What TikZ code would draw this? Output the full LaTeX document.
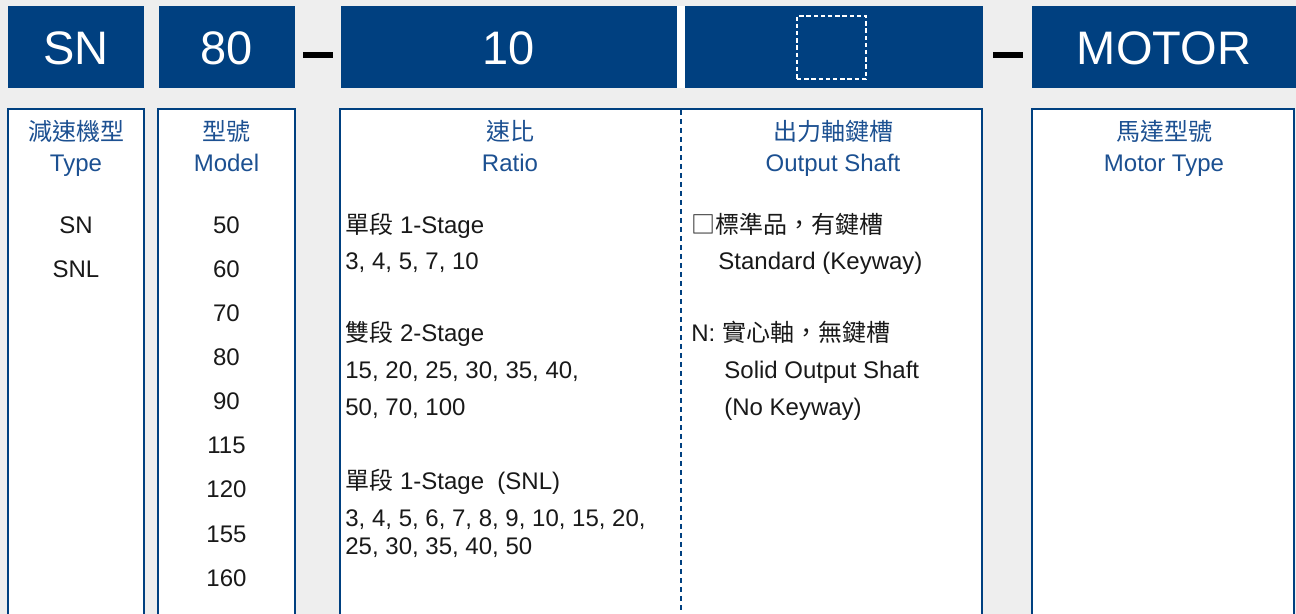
\documentclass[tikz,border=0pt]{standalone}
\usepackage{fontspec}
\setmainfont{Liberation Sans}
\newfontfamily\cjk{Noto Sans CJK TC}
\usepackage{tikz}

\definecolor{hblue}{RGB}{0,64,128}
\definecolor{tblue}{RGB}{28,80,145}
\definecolor{bggray}{RGB}{238,238,238}

\begin{document}
\begin{tikzpicture}[x=0.5pt, y=-0.5pt,
    hdr/.style={fill=hblue, text=white, inner sep=0pt, minimum height=41pt,
        text height=16.8pt, text depth=0pt, font=\fontsize{23.5}{28}\selectfont},
    ttl/.style={anchor=base, inner sep=0pt, text=tblue, font=\fontsize{12}{14}\selectfont},
    itm/.style={anchor=base, inner sep=0pt, text=black!90, font=\fontsize{12}{14}\selectfont},
    lst/.style={itm, anchor=base west},
    panel/.style={draw=hblue, line width=1pt, fill=white},
    bar/.style={line width=3pt, black}]

    \fill[bggray] (0,0) rectangle (1296,614);
    \clip (0,0) rectangle (1296,614);

    \node[hdr, minimum width=68pt] (SN) at (76,47.5) {SN};
    \node[hdr, minimum width=68pt] (SZ) at (227,47.5) {80};
    \draw[bar] (303,55.5) -- (333,55.5);
    \node[hdr, minimum width=168pt] (RT) at (509,47.5) {10};
    \fill[white] (677,6.5) rectangle (685,88.5);
    \node[hdr, minimum width=149pt] (OS) at (834,47.5) {};
    \node[draw=white, line width=1pt, dash pattern=on 2.2pt off 1.4pt,
        inner sep=0pt, minimum width=34.5pt, minimum height=31.5pt] (OSkey) at (831.5,47.5) {};
    \draw[bar] (993,55.5) -- (1023,55.5);
    \node[hdr, minimum width=132pt] (MT) at (1164,47.5) {MOTOR};

        \draw[panel] (8,109) rectangle (144,640);
        \draw[panel] (158,109) rectangle (295,640);
        \draw[panel] (340,109) rectangle (982,640);
        \draw[panel] (1032,109) rectangle (1294,640);
        \draw[hblue, line width=1pt, dash pattern=on 2.5pt off 2pt] (681,110) -- (681,640);

        \node[ttl] (defTY) at (76,141) {\cjk 減速機型};
        \node[ttl] (TY) at (76,172) {Type};
        \node[ttl] (defMD) at (226.5,141) {\cjk 型號};
        \node[ttl] (MD) at (226.5,172) {Model};
        \node[ttl] (defRA) at (510,141) {\cjk 速比};
        \node[ttl] (RA) at (510,172) {Ratio};
        \node[ttl] (defSH) at (833,141) {\cjk 出力軸鍵槽};
        \node[ttl] (SH) at (833,172) {Output Shaft};
        \node[ttl] (defMO) at (1164,141) {\cjk 馬達型號};
        \node[ttl] (MO) at (1164,172) {Motor Type};

        \node[itm] (tySN) at (76,234) {SN};
        \node[itm] (tySNL) at (76,278) {SNL};

        \foreach \m [count=\i from 0] in {50,60,70,80,90,115,120,155,160}
            \node[itm] (md\m) at (226.5,234+44*\i) {\m};

        \node[lst] (oneST) at (345,234) {{\cjk 單段} 1-Stage};
        \node[lst] (oneRA) at (345,270) {3, 4, 5, 7, 10};
        \node[lst] (twoST) at (345,342) {{\cjk 雙段} 2-Stage};
        \node[lst] (twoRA) at (345,379) {15, 20, 25, 30, 35, 40,};
        \node[lst] (twoRB) at (345,416) {50, 70, 100};
        \node[lst] (snlST) at (345,489) {{\cjk 單段} 1-Stage\ \ (SNL)};
        \node[lst] (snlRA) at (345,526) {3, 4, 5, 6, 7, 8, 9, 10, 15, 20,};
        \node[lst] (snlRB) at (345,554) {25, 30, 35, 40, 50};

        \node[lst] (defSTD) at (691,234) {\cjk □標準品，有鍵槽};
        \node[lst] (STD) at (718,270) {Standard (Keyway)};
        \node[lst] (defSOL) at (691,342) {N: {\cjk 實心軸，無鍵槽}};
        \node[lst] (SOL) at (724,379) {Solid Output Shaft};
        \node[lst] (SOLb) at (724,416) {(No Keyway)};

    \end{tikzpicture}
\end{document}
